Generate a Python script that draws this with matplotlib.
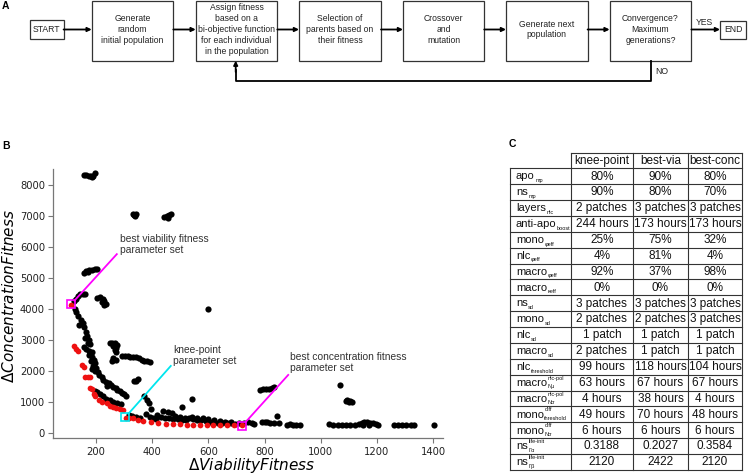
import matplotlib
matplotlib.use("Agg")
import matplotlib.pyplot as plt

FF = "Liberation Sans"

# ---------------- panel A: GA steps
steps = ["Generate\nrandom\ninitial population",
         "Assign fitness\nbased on a\nbi-objective function\nfor each individual\nin the population",
         "Selection of\nparents based on\ntheir fitness",
         "Crossover\nand\nmutation",
         "Generate next\npopulation",
         "Convergence?\nMaximum\ngenerations?"]

# ---------------- panel B: all evaluated parameter sets (black) and pareto front (red)
other_x = [158, 166, 174, 182, 190, 196, 186,
           332, 336, 340, 343, 442, 452, 460, 468, 456,
           158, 166, 176, 186, 196, 205, 170,
           120, 128, 136, 144, 152, 160,
           205, 215, 225, 220, 230, 236, 228, 600,
           124, 130, 136, 146, 140, 152, 158, 164, 168, 174, 160, 170, 180,
           156, 166, 176, 186, 176, 186, 192, 182, 196, 190, 200, 186, 196,
           206, 212, 220, 226, 236, 246, 240, 252, 262, 270, 276, 286, 292, 300, 306,
           195, 205, 215, 225, 235, 250, 262, 275, 288,
           248, 258, 268, 275, 262, 272, 266, 270, 262, 270, 258,
           292, 302, 312, 322, 332, 342, 352, 362, 372, 382, 392,
           335, 343, 350, 372, 382, 390, 396,
           318, 328, 342, 356, 378, 392, 404, 414, 418, 440, 455, 470,
           430, 445, 460, 475, 490, 505, 520, 505, 540,
           530, 545, 560, 575, 590, 605, 620, 635, 650, 665, 680, 695, 710,
           728, 742, 756, 764, 480, 498, 516, 540, 560, 580, 600, 620, 640, 660, 680,
           785, 795, 805, 815, 825, 835, 1070,
           1088, 1095, 1105, 1112, 1100, 843,
           790, 800, 810, 820, 835, 850, 880, 890, 900, 912, 925,
           1030, 1045, 1060, 1075, 1090, 1105, 1120, 1135, 1145, 1155, 1165, 1175,
           1185, 1195, 1205, 1150, 1170,
           1262, 1275, 1290, 1305, 1320, 1333, 1402]
other_y = [8330, 8310, 8290, 8280, 8290, 8370, 8250,
           7070, 7010, 6980, 7050, 6960, 6980, 7010, 7060, 6940,
           5150, 5230, 5250, 5260, 5280, 5290, 5190,
           4250, 4330, 4400, 4460, 4490, 4470,
           4350, 4390, 4320, 4220, 4120, 4140, 4260, 4000,
           3980, 3880, 3750, 3640, 3480, 3550, 3400, 3260, 3120, 3000, 3060, 2900, 2850,
           2780, 2700, 2650, 2600, 2500, 2450, 2350, 2300, 2250, 2150, 2100, 2050, 1990,
           1950, 1850, 1800, 1700, 1650, 1600, 1500, 1540, 1490, 1440, 1390, 1340, 1290, 1250, 1200,
           1350, 1300, 1260, 1200, 1100, 1050, 1000, 960, 930,
           2880, 2900, 2880, 2820, 2800, 2740, 2680, 2600, 2420, 2360, 2310,
           2480, 2470, 2460, 2450, 2440, 2430, 2400, 2340, 2310, 2300, 2280,
           1680, 1660, 1720, 1180, 1060, 970, 750,
           560, 540, 520, 480, 600, 520, 470, 430, 560, 700, 680, 650,
           520, 480, 460, 440, 430, 420, 400, 820, 1090,
           470, 440, 420, 400, 380, 350, 330, 320, 310, 300, 300, 290, 300,
           320, 340, 300, 280, 530, 500, 480, 520, 470, 460, 430, 400, 380, 360, 350,
           1390, 1400, 1410, 1420, 1440, 1460, 1540,
           1010, 1040, 1030, 1000, 980, 549,
           330, 340, 330, 320, 310, 320, 260, 270, 260, 260, 260,
           270, 260, 250, 250, 260, 250, 260, 270, 300, 330, 335, 320,
           300, 270, 260, 260, 260,
           240, 240, 240, 240, 240, 240, 258]

front_x = [110, 120, 128, 135, 150, 157, 160, 170, 180, 180, 186, 192, 198, 212,
           222, 238, 250, 262, 272, 285, 295, 305, 318, 333, 350, 368, 395, 422,
           450, 475, 500, 522, 545, 570, 595, 618, 640, 665, 690, 719]
front_y = [4120, 2800, 2700, 2650, 2170, 2110, 1810, 1800, 1790, 1450, 1400, 1240, 1180, 1040,
           1000, 950, 860, 820, 790, 760, 740, 490, 470, 460, 420, 390, 340, 300,
           290, 280, 270, 260, 255, 250, 245, 240, 240, 240, 235, 235]

best_via = (111, 4147)
knee = (303, 496)
best_conc = (720, 226)

# ---------------- panel C: selected parameter sets
row_base = ["apo", "ns", "layers", "anti-apo", "mono", "nlc", "macro", "macro",
            "ns", "mono", "nlc", "macro", "nlc", "macro", "macro", "mono", "mono", "ns", "ns"]
row_sub = ["mp", "mp", "nlc", "boost", "φeff", "φeff", "φeff", "κeff",
           "sd", "sd", "sd", "sd", "threshold", "Nμ", "Nσ", "threshold", "Nσ", "Γα", "Γβ"]
row_sup = ["", "", "", "", "", "", "", "", "", "", "", "", "",
           "nlc-pol", "nlc-pol", "diff", "diff", "life-init", "life-init"]
col_names = ["knee-point", "best-via", "best-conc"]
knee_vals = ["80%", "90%", "2 patches", "244 hours", "25%", "4%", "92%", "0%",
             "3 patches", "2 patches", "1 patch", "2 patches", "99 hours", "63 hours",
             "4 hours", "49 hours", "6 hours", "0.3188", "2120"]
via_vals = ["90%", "80%", "3 patches", "173 hours", "75%", "81%", "37%", "0%",
            "3 patches", "2 patches", "1 patch", "1 patch", "118 hours", "67 hours",
            "38 hours", "70 hours", "6 hours", "0.2027", "2422"]
conc_vals = ["80%", "70%", "3 patches", "173 hours", "32%", "4%", "98%", "0%",
             "3 patches", "3 patches", "1 patch", "1 patch", "104 hours", "67 hours",
             "4 hours", "48 hours", "6 hours", "0.3584", "2120"]

fig = plt.figure(figsize=(7.5, 4.75), dpi=100)

# overlay in pixel coordinates for the flowchart, table and panel letters
ov = fig.add_axes([0, 0, 1, 1])
ov.set_xlim(0, 750)
ov.set_ylim(475, 0)
ov.axis("off")

for lab, x, y in [("A", 2, 1), ("B", 2, 141), ("C", 509, 139)]:
    ov.text(x, y, lab, fontsize=7.5, fontweight="bold", family=FF, va="top", ha="left")

# ---- flowchart
box_x = [(91.7, 173.3), (195.7, 277.3), (299, 381), (403, 484.2), (506, 587.6), (609.6, 691.4)]
by0, by1, ymid = 0.7, 60.7, 29.5
for (x0, x1), s in zip(box_x, steps):
    ov.add_patch(plt.Rectangle((x0, by0), x1 - x0, by1 - by0, fill=False, ec="#333333", lw=0.9))
    ov.text((x0 + x1) / 2, ymid, s, ha="center", va="center", fontsize=6.2,
            family=FF, color="#222222", linespacing=1.25)
ov.add_patch(plt.Rectangle((29.7, 20), 33.9, 19, fill=False, ec="#333333", lw=0.9))
ov.text(46.6, ymid, "START", ha="center", va="center", fontsize=6.2, family=FF, color="#222222")
ov.add_patch(plt.Rectangle((720, 20.5), 26, 18.5, fill=False, ec="#333333", lw=0.9))
ov.text(733, ymid, "END", ha="center", va="center", fontsize=6.2, family=FF, color="#222222")

arr = dict(arrowstyle="-|>", lw=1.3, color="black", mutation_scale=6, shrinkA=0, shrinkB=0)
starts = [63.6] + [b[1] for b in box_x]
ends = [b[0] for b in box_x] + [720]
for xs, xe in zip(starts, ends):
    ov.annotate("", xy=(xe, ymid), xytext=(xs, ymid), arrowprops=arr)
ov.text(704, 27, "YES", ha="center", va="bottom", fontsize=6.2, family=FF, color="#222222")
ov.plot([651, 651, 235.7, 235.7], [by1, 80.7, 80.7, 70], color="black", lw=1.3)
ov.annotate("", xy=(235.7, by1), xytext=(235.7, 72), arrowprops=arr)
ov.text(655, 71.7, "NO", ha="left", va="center", fontsize=6.2, family=FF, color="#222222")

# ---- table
col_x = [510, 571, 632.7, 688.3, 741.7]
head_top, tab_top, tab_bot = 152.7, 168.3, 470
rh = (tab_bot - tab_top) / len(row_base)
lc = "#333333"
ov.plot([col_x[1], col_x[-1]], [head_top, head_top], color=lc, lw=0.8)
for i in range(len(row_base) + 1):
    y = tab_top + i * rh
    ov.plot([col_x[0], col_x[-1]], [y, y], color=lc, lw=0.8)
ov.plot([col_x[0], col_x[0]], [tab_top, tab_bot], color=lc, lw=0.8)
for x in col_x[1:]:
    ov.plot([x, x], [head_top, tab_bot], color=lc, lw=0.8)

for j, name in enumerate(col_names):
    ov.text((col_x[j + 1] + col_x[j + 2]) / 2, (head_top + tab_top) / 2 + 0.3, name,
            ha="center", va="center", fontsize=8.5, family=FF, color="#111111")
for j, vals in enumerate([knee_vals, via_vals, conc_vals]):
    for i, v in enumerate(vals):
        ov.text((col_x[j + 1] + col_x[j + 2]) / 2, tab_top + (i + 0.5) * rh + 0.3, v,
                ha="center", va="center", fontsize=8.5, family=FF, color="#111111")

r = fig.canvas.get_renderer()
inv = ov.transData.inverted()
for i, (b, sb, sp) in enumerate(zip(row_base, row_sub, row_sup)):
    base_y = tab_top + (i + 0.5) * rh + 3.2
    t = ov.text(516, base_y, b, ha="left", va="baseline", fontsize=8, family=FF, color="#111111")
    bb = t.get_window_extent(r)
    xr = inv.transform((bb.x1, bb.y0))[0]
    ov.text(xr + 0.4, base_y + 2.6, sb, ha="left", va="baseline", fontsize=4,
            family=FF, color="#111111")
    if sp:
        ov.text(xr + 0.4, base_y - 6.2, sp, ha="left", va="baseline", fontsize=4,
                family=FF, color="#111111")

# ---- scatter
ax = fig.add_axes([0.0711, 0.0773, 0.5196, 0.5663])
ax.scatter(other_x, other_y, s=20, c="black", linewidths=0, zorder=2)
ax.scatter(front_x, front_y, s=17, c="#ee1111", linewidths=0, zorder=3)
for pt, col in [(best_via, "#ff00ff"), (knee, "#00e5ee"), (best_conc, "#ff00ff")]:
    ax.plot(pt[0], pt[1], marker="s", ms=5.4, mfc="none", mec=col, mew=1.2, zorder=4)

notes = [(best_via, "#ff00ff", (274, 5762), (285, 6420), "best viability fitness\nparameter set"),
         (knee, "#00e5ee", (466, 2154), (475, 2840), "knee-point\nparameter set"),
         (best_conc, "#ff00ff", (884, 1864), (890, 2620), "best concentration fitness\nparameter set")]
for pt, col, end, tpos, txt in notes:
    ax.plot([pt[0] + 12, end[0]], [pt[1] + 113, end[1]], color=col, lw=1.3, zorder=4)
    ax.text(tpos[0], tpos[1], txt, ha="left", va="top", fontsize=7.4, family=FF,
            color="#333333", linespacing=1.15)

ax.set_xlim(48, 1435)
ax.set_ylim(-180, 8500)
ax.set_xticks([200, 400, 600, 800, 1000, 1200, 1400])
ax.set_yticks([0, 1000, 2000, 3000, 4000, 5000, 6000, 7000, 8000])
for side in ["top", "right"]:
    ax.spines[side].set_visible(False)
for side in ["left", "bottom"]:
    ax.spines[side].set_color("#777777")
    ax.spines[side].set_linewidth(0.9)
ax.tick_params(length=3.5, width=0.8, color="#777777", labelsize=7.2, labelcolor="#222222", pad=2.5)
ax.set_xlabel(r"$\Delta Viability Fitness$", fontsize=11)
ax.set_ylabel(r"$\Delta Concentration Fitness$", fontsize=11)
ax.xaxis.set_label_coords(0.51, -0.066)
ax.yaxis.set_label_coords(-0.094, 0.53)

fig.savefig("out.png", dpi=100)
